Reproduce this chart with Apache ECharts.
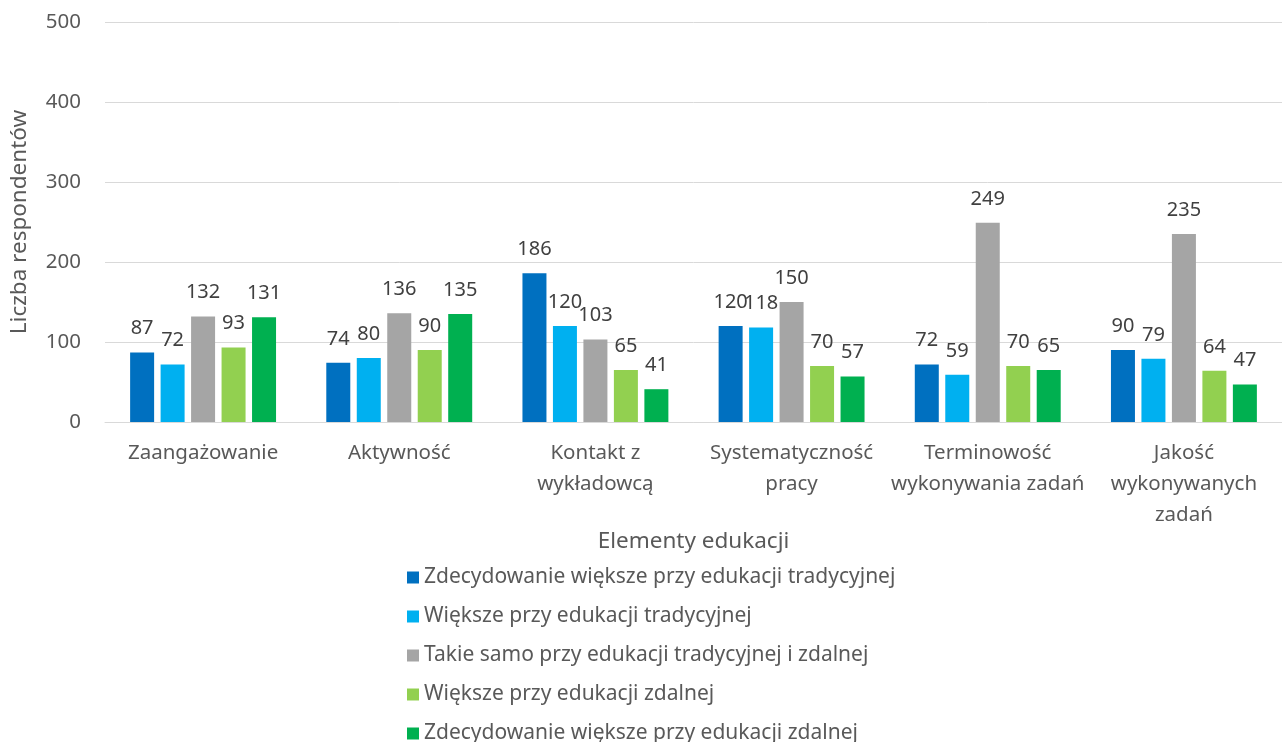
<!DOCTYPE html>
<html>
<head>
<meta charset="utf-8">
<script src="https://cdn.jsdelivr.net/npm/echarts@6/dist/echarts.min.js"></script>
<style>
  html, body { margin: 0; padding: 0; background: #fff; }
  #chart { width: 1282px; height: 742px; }
</style>
</head>
<body>
<div id="chart"></div>
<script>
const categories = [
  'Zaangażowanie',
  'Aktywność',
  'Kontakt z\nwykładowcą',
  'Systematyczność\npracy',
  'Terminowość\nwykonywania zadań',
  'Jakość\nwykonywanych\nzadań'
]
const seriesNames = [
  'Zdecydowanie większe przy edukacji tradycyjnej',
  'Większe przy edukacji tradycyjnej',
  'Takie samo przy edukacji tradycyjnej i zdalnej',
  'Większe przy edukacji zdalnej',
  'Zdecydowanie większe przy edukacji zdalnej'
]
const zdecTrad = [87, 74, 186, 120, 72, 90]
const wiekTrad = [72, 80, 120, 118, 59, 79]
const takieSamo = [132, 136, 103, 150, 249, 235]
const wiekZdal = [93, 90, 65, 70, 70, 64]
const zdecZdal = [131, 135, 41, 57, 65, 47]
const colors = ['#0070C0', '#00B0F0', '#A5A5A5', '#92D050', '#00B050']

const font = 'Noto Sans'
const textColor = '#595959'

const chart = echarts.init(document.getElementById('chart'))

const allData = [zdecTrad, wiekTrad, takieSamo, wiekZdal, zdecZdal]
const series = allData.map((d, i) => ({
  name: seriesNames[i],
  type: 'bar',
  data: d,
  barWidth: 24,
  barGap: '27%',
  itemStyle: { color: colors[i] },
  label: {
    show: true,
    position: 'top',
    distance: 14,
    color: '#404040',
    fontFamily: font,
    fontSize: 20
  }
}))

chart.setOption({
  animation: false,
  color: colors,
  grid: { left: 104, right: 0, top: 22, bottom: 320 },
  legend: {
    orient: 'vertical',
    left: 407,
    top: 567,
    height: 220,
    padding: 0,
    itemWidth: 12,
    itemHeight: 12,
    itemGap: 18,
    icon: 'rect',
    textStyle: { color: textColor, fontFamily: font, fontSize: 21 },
    data: seriesNames
  },
  xAxis: {
    type: 'category',
    data: categories,
    name: 'Elementy edukacji',
    nameLocation: 'middle',
    nameGap: 108,
    nameMoveOverlap: false,
    nameTextStyle: { color: textColor, fontFamily: font, fontSize: 22.5 },
    axisLine: { lineStyle: { color: '#d9d9d9' } },
    axisTick: { show: false },
    axisLabel: {
      color: textColor,
      fontFamily: font,
      fontSize: 20.5,
      lineHeight: 31,
      margin: 16,
      interval: 0
    }
  },
  yAxis: {
    type: 'value',
    min: 0,
    max: 500,
    interval: 100,
    name: 'Liczba respondentów',
    nameLocation: 'middle',
    nameGap: 74,
    nameMoveOverlap: false,
    nameTextStyle: { color: textColor, fontFamily: font, fontSize: 22.5 },
    axisLine: { show: false },
    axisTick: { show: false },
    axisLabel: { color: textColor, fontFamily: font, fontSize: 20.5, margin: 24 },
    splitLine: { lineStyle: { color: '#d9d9d9' } }
  },
  series: series
})
</script>
</body>
</html>
